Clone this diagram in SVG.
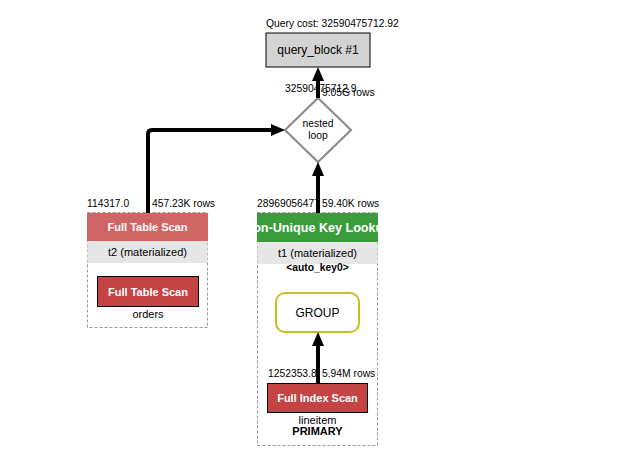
<svg xmlns="http://www.w3.org/2000/svg" width="618" height="469" viewBox="0 0 618 469">
<style>
text{font-family:"Liberation Sans",Arial,sans-serif;fill:#000}
.s{font-size:10.3px}
.m{font-size:11px}
.h{font-size:11px;font-weight:bold;fill:#fff}
.hw{font-size:12.6px}
.b{font-weight:bold}
.c{text-anchor:middle}
.outer{fill:#fff;stroke:#999;stroke-width:1;stroke-dasharray:3,2}
.band{fill:#e6e6e6}
.scan{fill:#c44343;stroke:#000;stroke-width:1}
.edge{fill:none;stroke:#000;stroke-width:4}
</style>
<defs>
<marker id="ah" viewBox="0 0 14 12" refX="4" refY="6" markerWidth="14" markerHeight="12" markerUnits="userSpaceOnUse" orient="auto">
<path d="M0,0 L14,6 L0,12 z" fill="#000"/>
</marker>
<clipPath id="clipT1"><rect x="257" y="213" width="121" height="29"/></clipPath>
</defs>
<rect width="618" height="469" fill="#fff"/>

<g id="query_block">
<text class="s" x="266" y="27">Query cost: 32590475712.92</text>
<rect x="266" y="33" width="104" height="34" fill="#d3d3d3" stroke="#000" stroke-width="1"/>
<text class="c" x="318" y="54" font-size="12">query_block #1</text>
</g>

<g id="nested_loop">
<polygon points="318,98 351,130 318,162 285,130" fill="#fff" stroke="#888" stroke-width="2"/>
<text class="s c" x="318" y="127">nested</text>
<text class="s c" x="318" y="139">loop</text>
</g>

<g id="t2">
<rect class="outer" x="87.5" y="212.5" width="120" height="115"/>
<rect x="87" y="213" width="121" height="28" fill="#cf6565"/>
<text class="h c" x="147.5" y="231">Full Table Scan</text>
<rect class="band" x="87.5" y="241" width="120" height="22"/>
<text class="m c" x="147.5" y="256">t2 (materialized)</text>
<g id="orders">
<rect class="scan" x="97.5" y="276.5" width="101" height="30"/>
<text class="h c" x="148" y="296">Full Table Scan</text>
<text class="m c" x="148" y="318">orders</text>
</g>
</g>

<g id="t1">
<rect class="outer" x="257.5" y="212.5" width="120" height="233"/>
<rect x="257" y="213" width="121" height="29" fill="#3a9c3a"/>
<text class="h hw c" x="317.5" y="232" clip-path="url(#clipT1)">Non-Unique Key Lookup</text>
<rect class="band" x="257.5" y="242" width="120" height="22"/>
<text class="m c" x="317.5" y="257">t1 (materialized)</text>
<text class="s c b" x="317.5" y="271">&lt;auto_key0&gt;</text>
<g id="group">
<rect x="276" y="293" width="83" height="39" rx="9" ry="9" fill="#fff" stroke="#c2c21a" stroke-width="2"/>
<text class="c" x="317.5" y="317" font-size="12">GROUP</text>
</g>
<g id="lineitem">
<rect class="scan" x="267.5" y="383.5" width="100" height="29"/>
<text class="h c" x="317.5" y="402">Full Index Scan</text>
<text class="m c" x="317.5" y="424">lineitem</text>
<text class="m c b" x="317.5" y="435">PRIMARY</text>
</g>
</g>

<g id="connectors">
<path class="edge" d="M318,98 V77" marker-end="url(#ah)"/>
<path class="edge" d="M148,213 V134 Q148,130 152,130 H275" marker-end="url(#ah)"/>
<path class="edge" d="M318,213 V172" marker-end="url(#ah)"/>
<path class="edge" d="M318,383 V342" marker-end="url(#ah)"/>
</g>

<g id="labels">
<text class="s" x="285" y="92">32590475712.9</text>
<text class="s" x="322" y="96">9.05G rows</text>
<text class="s" x="87" y="207">114317.0</text>
<text class="s" x="152" y="207">457.23K rows</text>
<text class="s" x="257" y="207">28969056477</text>
<text class="s" x="322" y="207">59.40K rows</text>
<text class="s" x="268" y="377">1252353.8</text>
<text class="s" x="322" y="377">5.94M rows</text>
</g>
</svg>
